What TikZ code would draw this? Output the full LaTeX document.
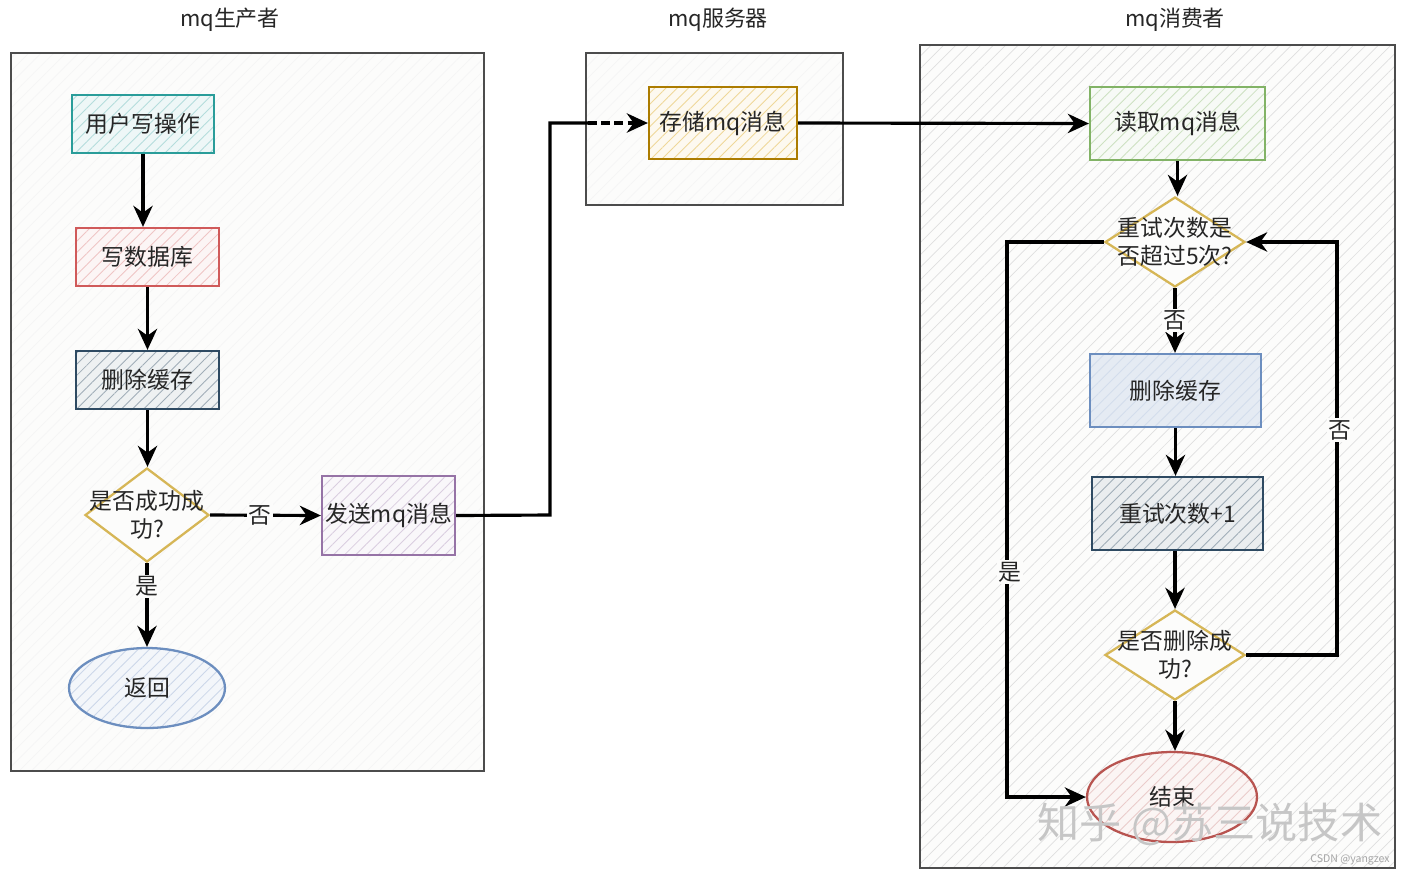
\documentclass[tikz,border=0pt]{standalone}
\usepackage{fontspec}
\setmainfont{Noto Sans CJK SC}
\usetikzlibrary{shapes.geometric,arrows.meta,patterns.meta}
\definecolor{tealb}{HTML}{2A9D9A}
\definecolor{redb}{HTML}{D05A5A}
\definecolor{darkb}{HTML}{2E4A62}
\definecolor{goldb}{HTML}{D6B656}
\definecolor{blueb}{HTML}{6C8EBF}
\definecolor{purpb}{HTML}{9673A6}
\definecolor{orangeb}{HTML}{D79B00}
\definecolor{greenb}{HTML}{82B366}
\definecolor{endred}{HTML}{B85450}
\definecolor{bgc}{HTML}{FCFCFB}
\tikzset{
  x=0.02cm, y=-0.02cm,
  every node/.style={font=\fontsize{13}{16}\selectfont, text=black!85},
  container/.style={draw=black!70, line width=1.2pt,
    preaction={fill=bgc},
    preaction={pattern={Lines[angle=45,distance=5pt,line width=0.4pt]}, pattern color=#1}},
  hbox/.style n args={3}{draw=#1, line width=1.3pt,
    preaction={fill=#2},
    preaction={pattern={Lines[angle=45,distance=4.5pt,line width=0.5pt]}, pattern color=#3}},
  dia/.style={diamond, draw=goldb, line width=1.3pt, fill=bgc, inner sep=0pt},
  flow/.style={line width=1.8pt, -{Stealth[length=12pt,width=11pt]}},
  plain/.style={line width=1.8pt},
  lbl/.style={fill=#1, inner sep=1pt},
  ttl/.style={font=\fontsize{12.5}{15}\selectfont},
}
\begin{document}
\begin{tikzpicture}
\useasboundingbox[fill=white] (0,0) rectangle (1412,877);

% titles
\node[ttl] (t1) at (230,20) {mq生产者};
\node[ttl] (t2) at (718,20) {mq服务器};
\node[ttl] (t3) at (1175,20) {mq消费者};

% containers
\draw[container=gray!8] (11,53) rectangle (484,771);
\draw[container=gray!8] (586,53) rectangle (843,205);
\draw[container=gray!25] (920,45) rectangle (1395,868);

% producer
\node[hbox={tealb}{tealb!8}{tealb!35}, minimum width=2.84cm, minimum height=1.16cm] (u1) at (143,124) {用户写操作};
\node[hbox={redb}{redb!6}{redb!35}, minimum width=2.86cm, minimum height=1.16cm] (u2) at (147.5,257) {写数据库};
\node[hbox={darkb}{darkb!8}{darkb!45}, minimum width=2.86cm, minimum height=1.16cm] (u3) at (147.5,380) {删除缓存};
\node[dia, minimum width=2.48cm, minimum height=1.88cm] (d1) at (147,515) {};
\node[align=center, inner sep=0pt] (d1t) at (147,515) {是否成功成\\功?};
\node[ellipse, hbox={blueb}{blueb!8}{blueb!35}, minimum width=3.12cm, minimum height=1.6cm] (ret) at (147,688) {返回};
\node[hbox={purpb}{purpb!6}{purpb!35}, minimum width=2.66cm, minimum height=1.58cm, inner sep=1pt] (send) at (388.5,515.5) {发送mq消息};

% server
\node[hbox={orangeb!80!black}{orangeb!6}{orangeb!40}, minimum width=2.96cm, minimum height=1.44cm] (store) at (723,123) {存储mq消息};

% consumer
\node[hbox={greenb}{greenb!6}{greenb!40}, minimum width=3.5cm, minimum height=1.46cm] (read) at (1177.5,123.5) {读取mq消息};
\node[dia, minimum width=2.8cm, minimum height=1.8cm] (d2) at (1175,242) {};
\node[align=center, inner sep=0pt] (d2t) at (1175,242) {重试次数是\\否超过5次?};
\node[hbox={blueb}{blueb!18}{blueb!30}, minimum width=3.42cm, minimum height=1.46cm] (del) at (1175.5,390.5) {删除缓存};
\node[hbox={darkb}{darkb!10}{darkb!45}, minimum width=3.42cm, minimum height=1.46cm] (inc) at (1177.5,513.5) {重试次数+1};
\node[dia, minimum width=2.8cm, minimum height=1.8cm] (d3) at (1175,655) {};
\node[align=center, inner sep=0pt] (d3t) at (1175,655) {是否删除成\\功?};
\node[ellipse, hbox={endred}{endred!6}{endred!30}, minimum width=3.4cm, minimum height=1.8cm] (fin) at (1172,797) {结束};

% producer connectors
\draw[flow] (u1.south) -- (u1.south |- u2.north);
\draw[flow] (u2.south) -- (u2.south |- u3.north);
\draw[flow] (u3.south) -- (u3.south |- d1.north);
\draw[flow] (d1.south) -- (d1.south |- ret.north) node[pos=0.28, lbl=bgc] (l1) {是};
\draw[flow] (d1.east) -- (send.west) node[pos=0.45, lbl=bgc] (l2) {否};

% producer -> server
\coordinate (j1) at (550,515);
\coordinate (j2) at (550,123);
\coordinate (j3) at (588,123);
\draw[plain] (send.east) -- (j1) -- (j2) -- (j3);
\draw[line width=1.8pt, dash pattern=on 5pt off 2.5pt, -{Stealth[length=12pt,width=11pt]}] (j3) -- (store.west);

% server -> consumer
\draw[flow] (store.east) -- (read.west);

% consumer connectors
\draw[flow] (read.south) -- (read.south |- d2.north);
\draw[flow] (d2.south) -- (d2.south |- del.north) node[midway, lbl=bgc] (l3) {否};
\draw[flow] (del.south) -- (del.south |- inc.north);
\draw[flow] (inc.south -| d3.north) -- (d3.north);
\draw[flow] (d3.south) -- (d3.south |- fin.north);
\coordinate (rx) at (1337,0);
\coordinate (lx) at (1007,0);
\draw[flow] (d3.east) -- (d3.east -| rx) -- (d2.east -| rx) -- (d2.east);
\node[lbl=bgc] (l4) at (1340,430) {否};
\draw[flow] (d2.west) -- (d2.west -| lx) -- (fin.west -| lx) -- (fin.west);
\node[lbl=bgc] (l5) at (1010,572) {是};

% watermarks
\node[text=gray!45, font=\fontsize{24}{28}\selectfont] (wm1) at (1210,824) {知乎 @苏三说技术};
\node[text=gray!70, font=\fontsize{6}{8}\selectfont] (wm2) at (1350,860) {CSDN @yangzex};
\end{tikzpicture}
\end{document}
